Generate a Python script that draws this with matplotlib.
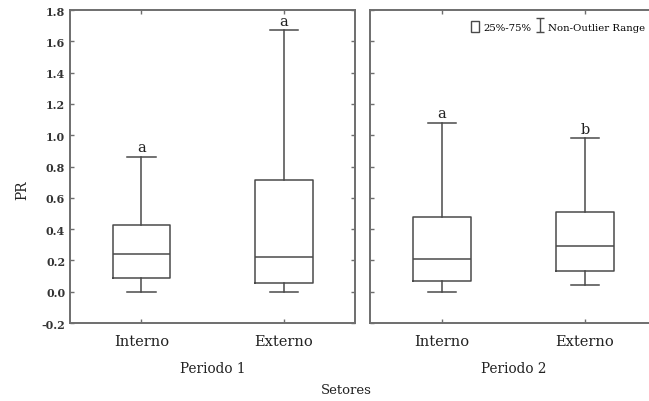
import matplotlib
matplotlib.use("Agg")
import matplotlib.pyplot as plt
from matplotlib.patches import Patch
from matplotlib.lines import Line2D
from matplotlib.path import Path

plt.rcParams['font.family'] = ['DejaVu Serif']
plt.rcParams['axes.unicode_minus'] = False

# PR summary per sector, one list per period
sectors = ['Interno', 'Externo']
periods = ['Periodo 1', 'Periodo 2']
whis_low = [[0.00, 0.00], [0.00, 0.04]]
q1 = [[0.09, 0.055], [0.066, 0.134]]
median = [[0.24, 0.225], [0.206, 0.29]]
q3 = [[0.424, 0.716], [0.475, 0.511]]
whis_high = [[0.86, 1.67], [1.08, 0.98]]
letters = [['a', 'a'], ['a', 'b']]

edge = '#4a4a4a'
spine_col = '#6e6e6e'
txt = '#222222'

fig = plt.figure(figsize=(6.49, 4.02), dpi=100)
ax1 = fig.add_axes([0.1079, 0.194, 0.4396, 0.7786])
ax2 = fig.add_axes([0.5706, 0.194, 0.4411, 0.7786])

for p, ax in enumerate([ax1, ax2]):
    stats = []
    for s in range(len(sectors)):
        stats.append(dict(whislo=whis_low[p][s], q1=q1[p][s], med=median[p][s],
                          q3=q3[p][s], whishi=whis_high[p][s], fliers=[]))
    ax.bxp(stats, positions=[1, 2], widths=0.4, showfliers=False,
           boxprops=dict(color=edge, linewidth=1.1),
           whiskerprops=dict(color=edge, linewidth=1.1),
           capprops=dict(color=edge, linewidth=1.1),
           medianprops=dict(color=edge, linewidth=1.1),
           capwidths=0.2)
    for s in range(len(sectors)):
        ax.annotate(letters[p][s], (s + 1, whis_high[p][s]), xytext=(0, 2),
                    textcoords='offset points', ha='center', va='bottom',
                    fontsize=10.5, color=txt)
    ax.set_xlim(0.5, 2.5)
    ax.set_ylim(-0.2, 1.8)
    ax.set_yticks([i / 10 for i in range(-2, 19, 2)])
    ax.set_xticks([1, 2])
    ax.set_xticklabels(sectors, fontsize=10.5, color=txt)
    ax.tick_params(direction='in', top=True, right=True, length=3,
                   color=spine_col, width=1)
    ax.tick_params(axis='x', pad=8)
    for sp in ax.spines.values():
        sp.set_color(spine_col)
        sp.set_linewidth(1.4)
    ax.set_xlabel(periods[p], fontsize=9.8, color=txt, labelpad=9)

ax1.set_yticklabels(['%.1f' % t for t in ax1.get_yticks()], fontsize=8,
                    color='#333333', fontweight='bold')
ax2.set_yticklabels([])
ax1.set_ylabel('PR', fontsize=10, color=txt)
ax1.yaxis.set_label_coords(-0.144, 0.428)

fig.text(0.534, 0.028, 'Setores', ha='center', va='center', fontsize=9.5,
         color=txt)

# legend: box for interquartile range, capped bar for whisker span
whisker_marker = Path([(-0.6, 1), (0.6, 1), (0, 1), (0, -1), (-0.6, -1), (0.6, -1)],
                      [Path.MOVETO, Path.LINETO, Path.MOVETO, Path.LINETO,
                       Path.MOVETO, Path.LINETO])
handles = [Patch(facecolor='white', edgecolor=edge, linewidth=1.0),
           Line2D([], [], linestyle='none', marker=whisker_marker,
                  markersize=10, markeredgecolor=edge, markeredgewidth=1.0)]
leg = ax2.legend(handles, ['25%-75%', 'Non-Outlier Range'], ncol=2,
                 loc='upper right', bbox_to_anchor=(0.98, 0.985), frameon=False,
                 fontsize=7.3, handlelength=0.8, handleheight=1.3,
                 handletextpad=0.35, columnspacing=0.5, borderaxespad=0.2)

fig.savefig('out.png', dpi=100)
